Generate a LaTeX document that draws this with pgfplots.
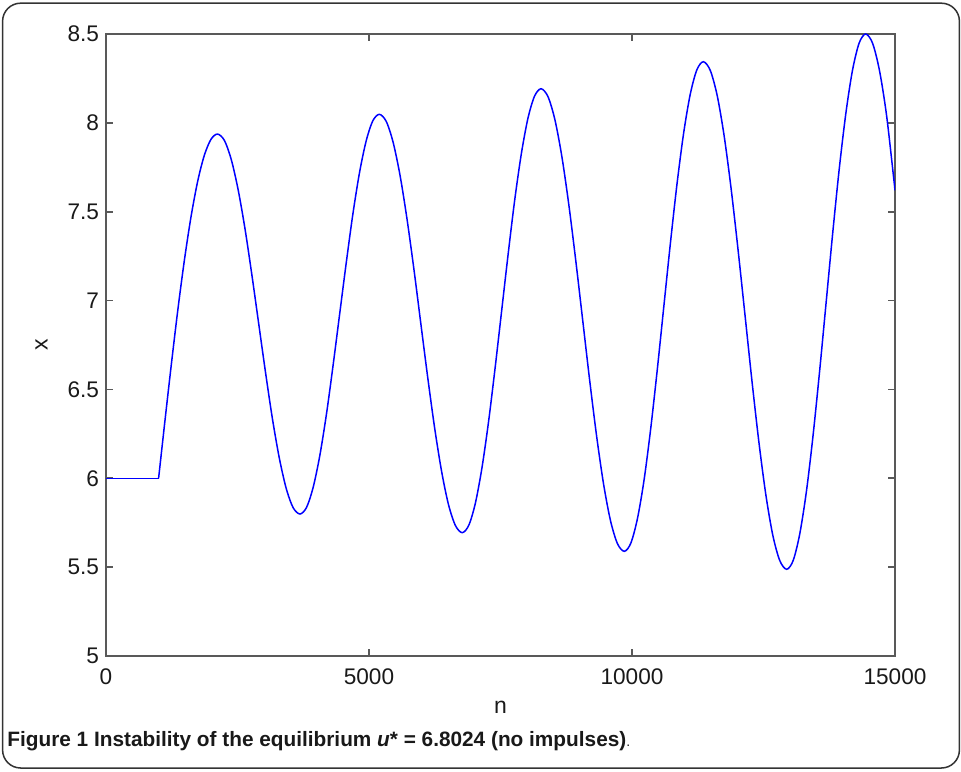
\documentclass[border=0pt]{standalone}
\usepackage{pgfplots}
\pgfplotsset{compat=1.18}
\usepackage{fontspec}
\setmainfont{Liberation Sans}

\begin{document}
\begin{tikzpicture}
\useasboundingbox (0,0) rectangle (480.5pt,385.5pt);
% outer frame of the figure
\draw[black!80, line width=0.75pt, rounded corners=9pt] (1.3pt,1.5pt) rectangle (479.7pt,383.9pt);
\begin{axis}[
  at={(53pt,57.5pt)}, anchor=south west,
  scale only axis, width=394.5pt, height=311pt,
  xmin=0, xmax=15000, ymin=5, ymax=8.5,
  xtick={0,5000,10000,15000},
  ytick={5,5.5,6,6.5,7,7.5,8,8.5},
  scaled x ticks=false,
  /pgf/number format/set thousands separator={},
  /pgf/number format/assume math mode=true,
  tick align=inside,
  major tick length=3.5pt,
  axis line style={black!65, line width=0.8pt},
  every tick/.style={black!65, line width=0.8pt},
  tick label style={font=\fontsize{11.3}{13}\selectfont, text=black!90},
  xticklabel style={yshift=-2.6pt},
  xlabel={n}, ylabel={x},
  label style={font=\fontsize{11.5}{13}\selectfont, text=black!90},
  xlabel style={at={(axis description cs:0.5,-0.082)}, anchor=center},
  ylabel style={at={(axis description cs:-0.0816,0.5)}, anchor=center},
]
\addplot[blue, line width=0.75pt] coordinates {(0,6) (1000,6)};
\addplot[blue, line width=0.75pt, smooth] coordinates {
  (1000,6.000) (1120,6.322) (1245,6.648) (1370,6.958) (1495,7.237) (1620,7.478) (1745,7.674) (1870,7.818) (1995,7.907) (2120,7.937)
  (2251,7.901) (2381,7.794) (2512,7.624) (2643,7.403) (2773,7.145) (2904,6.868)
  (3035,6.591) (3165,6.333) (3296,6.112) (3427,5.942) (3557,5.835) (3688,5.799)
  (3814,5.837) (3939,5.950) (4065,6.128) (4191,6.361) (4316,6.633) (4442,6.924)
  (4568,7.214) (4693,7.486) (4819,7.719) (4945,7.897) (5070,8.010) (5196,8.048)
  (5328,8.008) (5459,7.890) (5591,7.703) (5722,7.460) (5854,7.176) (5985,6.871)
  (6117,6.566) (6248,6.283) (6380,6.039) (6511,5.852) (6643,5.734) (6774,5.694)
  (6899,5.737) (7023,5.861) (7148,6.060) (7273,6.319) (7397,6.620) (7522,6.943)
  (7647,7.266) (7771,7.568) (7896,7.826) (8021,8.025) (8145,8.149) (8270,8.192)
  (8402,8.148) (8534,8.018) (8666,7.811) (8798,7.541) (8930,7.227) (9062,6.891)
  (9194,6.554) (9326,6.240) (9458,5.970) (9590,5.763) (9722,5.633) (9854,5.589)
  (9979,5.636) (10104,5.774) (10230,5.992) (10355,6.278) (10480,6.610) (10605,6.967)
  (10730,7.323) (10855,7.655) (10981,7.941) (11106,8.159) (11231,8.297) (11356,8.344)
  (11488,8.295) (11620,8.153) (11752,7.926) (11884,7.630) (12016,7.286) (12149,6.916)
  (12281,6.546) (12413,6.202) (12545,5.906) (12677,5.679) (12809,5.537) (12941,5.488)
  (13066,5.539) (13191,5.690) (13317,5.929) (13442,6.241) (13567,6.604) (13692,6.994)
  (13817,7.384) (13942,7.747) (14068,8.059) (14193,8.298) (14318,8.449) (14443,8.500)
  (14575,8.447) (14707,8.291) (14839,8.043) (14971,7.700) (15000,7.620)
};
\end{axis}
% caption
\node[anchor=base west, inner sep=0pt, text=black!90] at (3.5pt,12.15pt)
  {\fontsize{10.4}{12}\selectfont\bfseries Figure 1 Instability of the equilibrium \textit{u}* = 6.8024 (no impulses)\mdseries\fontsize{7}{8}\selectfont.};
\end{tikzpicture}
\end{document}
